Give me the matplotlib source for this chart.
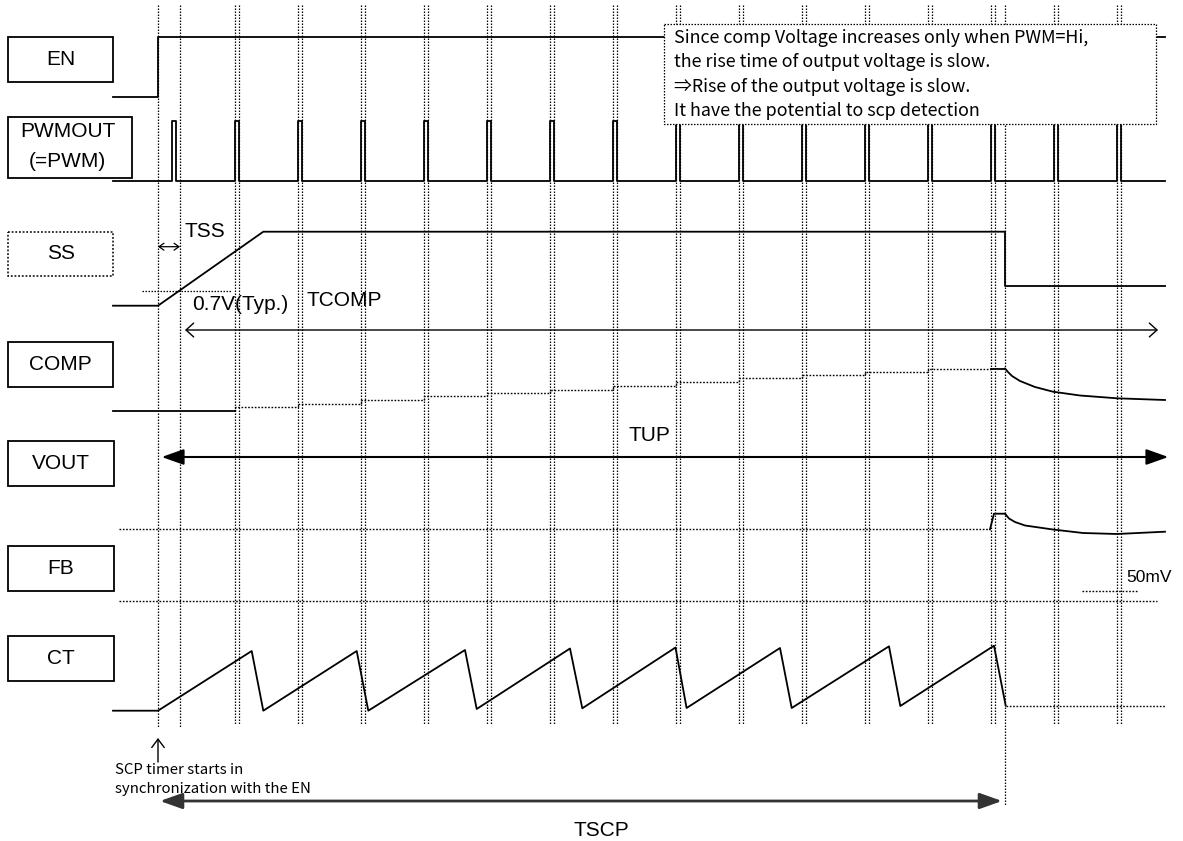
import matplotlib
matplotlib.use("Agg")
import matplotlib.pyplot as plt
from matplotlib.patches import Rectangle

# ---------------- data (time axis in diagram units, level axis downward) ----------------
labels = ["EN", "PWMOUT", "SS", "COMP", "VOUT", "FB", "CT"]
label_sub = {"PWMOUT": "(=PWM)"}
box_top = [36.7, 117.3, 231.7, 341.7, 441.0, 546.0, 636.0]
box_bottom = [81.7, 178.3, 276.0, 386.7, 486.0, 591.0, 681.0]
box_right = [113.3, 131.7, 113.3, 113.3, 113.7, 113.7, 113.7]
box_dotted = [False, False, True, False, False, False, False]

t_start, t_en, t_tss, t_scp, t_end = 113, 158, 180, 1005, 1165
pwm_times = [172, 235, 298, 361, 424, 487, 550, 613, 676, 739, 802, 865, 928, 991, 1054, 1117]
pwm_width = 4
en_low, en_high = 96.7, 36.7
pwm_low, pwm_high = 181.0, 121.0
ss_low, ss_high, ss_top_t, ss_after = 305.7, 231.7, 263.3, 286.0
ss_07v = 290.7
comp_base = 411.0
comp_step_t = [235, 298, 361, 424, 487, 550, 613, 676, 739, 802, 865, 928, 991]
comp_levels = [407.3, 403.7, 400.0, 396.3, 393.0, 389.7, 386.0, 382.0, 378.3, 375.0, 371.7, 368.5, 368.5]
comp_decay_t = [1005, 1008, 1012, 1020, 1035, 1053, 1080, 1117, 1165]
comp_decay_v = [368.5, 372.0, 376.0, 381.0, 387.0, 391.7, 395.5, 398.3, 400.0]
fb_upper, fb_lower = 529.3, 600.7
fb_rise_t, fb_rise_v = 994, 513.7
fb_decay_t = [1005, 1009, 1015, 1025, 1053, 1083, 1117, 1165]
fb_decay_v = [513.7, 518.5, 522.0, 525.5, 529.5, 533.0, 534.0, 531.7]
ct_base = 710.7
ct_peak_t = [251.7, 356.7, 465.0, 570.0, 675.5, 780.0, 889.0, 994.0]
ct_peak_v = [651.0, 651.0, 650.0, 648.5, 647.5, 648.0, 646.3, 645.7]
ct_trough_t = [263.3, 368.3, 476.7, 582.3, 686.6, 791.7, 900.3, 1005.7]
ct_trough_v = [710.7, 710.7, 709.0, 708.3, 708.0, 708.0, 706.0, 705.7]

note_lines = ["Since comp Voltage increases only when PWM=Hi,",
              "the rise time of output voltage is slow.",
              "⇒Rise of the output voltage is slow.",
              "It have the potential to scp detection"]

# ---------------- figure ----------------
W, H = 1183, 841
fig = plt.figure(figsize=(W / 100, H / 100), dpi=100)
ax = fig.add_axes([0, 0, 1, 1])
ax.set_xlim(0, W)
ax.set_ylim(H, 0)
ax.axis("off")

LW = 1.3
DOT = (0, (1.2, 1.2))
K = "black"
LAB_FONT = ["Liberation Sans", "Noto Sans CJK JP", "DejaVu Sans"]
JP_FONT = ["Noto Sans CJK JP", "DejaVu Sans"]

# vertical dotted guide lines
for t in [t_en, t_tss]:
    ax.plot([t, t], [5, 728], color=K, lw=0.9, ls=DOT, zorder=1)
for p in pwm_times[1:]:
    for t in (p, p + pwm_width):
        ax.plot([t, t], [5, 725], color=K, lw=0.9, ls=DOT, zorder=1)
ax.plot([t_scp, t_scp], [5, 805], color=K, lw=0.9, ls=DOT, zorder=1)

# label boxes
for name, yt, yb, xr, dotted in zip(labels, box_top, box_bottom, box_right, box_dotted):
    ax.add_patch(Rectangle((8.3, yt), xr - 8.3, yb - yt, fill=False, ec=K,
                           lw=1.1 if dotted else 1.3, ls=DOT if dotted else "-", zorder=3))
    cx = (8.3 + xr) / 2
    if name in label_sub:
        ax.text(cx - 2, yt + 14.5, name, ha="center", va="center", fontsize=15, family=LAB_FONT)
        ax.text(cx - 3, yt + 44.5, label_sub[name], ha="center", va="center", fontsize=15, family=LAB_FONT)
    else:
        ax.text(cx, (yt + yb) / 2, name, ha="center", va="center", fontsize=15, family=LAB_FONT)

# EN
ax.plot([t_start, t_en, t_en, t_end], [en_low, en_low, en_high, en_high], color=K, lw=LW, zorder=2)

# PWM
px, py = [t_start], [pwm_low]
for p in pwm_times:
    px += [p, p, p + pwm_width, p + pwm_width]
    py += [pwm_low, pwm_high, pwm_high, pwm_low]
px.append(t_end); py.append(pwm_low)
ax.plot(px, py, color=K, lw=LW, zorder=2)

# SS
ax.plot([t_start, t_en, ss_top_t, t_scp, t_scp, t_end],
        [ss_low, ss_low, ss_high, ss_high, ss_after, ss_after], color=K, lw=LW, zorder=2)
ax.plot([141.7, 231.7], [ss_07v, ss_07v], color=K, lw=0.9, ls=DOT, zorder=2)
ax.annotate("", xy=(t_en, 246.7), xytext=(t_tss, 246.7),
            arrowprops=dict(arrowstyle="<->,head_length=0.35,head_width=0.25", lw=0.9,
                            color=K, shrinkA=0, shrinkB=0, mutation_scale=10))
ax.text(185, 231, "TSS", ha="left", va="center", fontsize=15, family=LAB_FONT)
ax.text(191.7, 305, "0.7V(Typ.)", ha="left", va="center", fontsize=15, family=LAB_FONT)
ax.text(306.7, 300, "TCOMP", ha="left", va="center", fontsize=15, family=LAB_FONT)
ax.annotate("", xy=(185, 330), xytext=(1158, 330),
            arrowprops=dict(arrowstyle="<->,head_length=0.55,head_width=0.5", lw=1.0,
                            color=K, shrinkA=0, shrinkB=0, mutation_scale=10))

# COMP
ax.plot([t_start, comp_step_t[0]], [comp_base, comp_base], color=K, lw=LW, zorder=2)
sx, sy = [comp_step_t[0]], [comp_base]
for i in range(len(comp_step_t) - 1):
    sx += [comp_step_t[i], comp_step_t[i + 1]]
    sy += [comp_levels[i], comp_levels[i]]
ax.plot(sx, sy, color=K, lw=1.0, ls=DOT, zorder=2)
ax.plot([comp_step_t[-1], t_scp], [comp_levels[-1], comp_levels[-1]], color=K, lw=LW, zorder=2)
ax.plot(comp_decay_t, comp_decay_v, color=K, lw=LW, zorder=2)

# VOUT / TUP
ax.annotate("", xy=(161.7, 457), xytext=(1168.3, 457),
            arrowprops=dict(arrowstyle="<|-|>,head_length=0.9,head_width=0.32", lw=1.5,
                            color=K, shrinkA=0, shrinkB=0, mutation_scale=15))
ax.text(628.3, 435, "TUP", ha="left", va="center", fontsize=15, family=LAB_FONT)

# FB
ax.plot([119, 990], [fb_upper, fb_upper], color=K, lw=1.0, ls=DOT, zorder=2)
ax.plot([990, fb_rise_t, t_scp], [fb_upper, fb_rise_v, fb_rise_v], color=K, lw=LW, zorder=2)
ax.plot(fb_decay_t, fb_decay_v, color=K, lw=LW, zorder=2)
ax.plot([119, 1157], [fb_lower, fb_lower], color=K, lw=1.0, ls=DOT, zorder=2)
ax.plot([1081.7, 1138.3], [591, 591], color=K, lw=1.0, ls=DOT, zorder=2)
ax.text(1126, 578, "50mV", ha="left", va="center", fontsize=12.5, family=LAB_FONT)

# CT
cx_, cy_ = [t_start, t_en], [ct_base, ct_base]
for tp, vp, tt, vt in zip(ct_peak_t, ct_peak_v, ct_trough_t, ct_trough_v):
    cx_ += [tp, tt]
    cy_ += [vp, vt]
ax.plot(cx_, cy_, color=K, lw=LW, zorder=2)
ax.plot([ct_trough_t[-1], t_end], [ct_trough_v[-1], ct_trough_v[-1]], color=K, lw=1.0, ls=DOT, zorder=2)

# SCP timer start
ax.annotate("", xy=(t_en, 738), xytext=(t_en, 762),
            arrowprops=dict(arrowstyle="->,head_length=0.6,head_width=0.45", lw=1.0,
                            color=K, shrinkA=0, shrinkB=0, mutation_scale=10))
ax.text(115, 770, "SCP timer starts in", ha="left", va="center", fontsize=10.8, family=JP_FONT)
ax.text(115, 789, "synchronization with the EN", ha="left", va="center", fontsize=10.8, family=JP_FONT)

# TSCP
ax.annotate("", xy=(160, 801), xytext=(1002, 801),
            arrowprops=dict(arrowstyle="<|-|>,head_length=0.9,head_width=0.32", lw=2.0,
                            color="#333333", shrinkA=0, shrinkB=0, mutation_scale=15))
ax.text(601, 830, "TSCP", ha="center", va="center", fontsize=15, family=LAB_FONT)

# note box
ax.add_patch(Rectangle((664, 24.3), 1155.8 - 664, 124.3 - 24.3, fc="white", ec=K,
                       lw=0.9, ls=DOT, zorder=5))
for i, line in enumerate(note_lines):
    ax.text(674, 38 + i * 24.3, line, ha="left", va="center", fontsize=12.9,
            family=JP_FONT, zorder=6)

fig.savefig("out.png", dpi=100)
